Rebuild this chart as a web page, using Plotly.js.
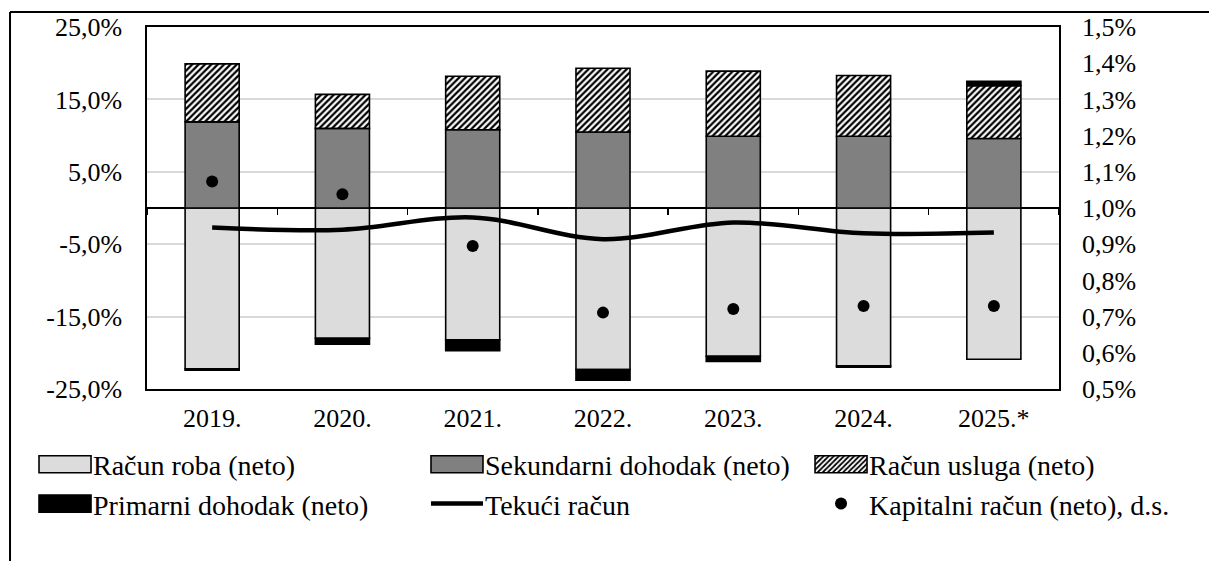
<!DOCTYPE html>
<html>
<head>
<meta charset="utf-8">
<script src="https://cdn.plot.ly/plotly-3.0.1.min.js"></script>
<style>
  html, body { margin: 0; padding: 0; background: #ffffff; }
  #chart { width: 1209px; height: 561px; }
</style>
</head>
<body>
<div id="chart"></div>
<script>
// ---- Data ----
const years = ["2019.", "2020.", "2021.", "2022.", "2023.", "2024.", "2025.*"];

const racunRoba        = [-22.2, -18.0, -18.2, -22.3, -20.5, -21.8, -20.9];  // % (left axis)
const sekundarniDohodak = [11.9, 11.0, 10.8, 10.5, 9.9, 9.9, 9.6];           // %
const racunUsluga      = [8.0, 4.7, 7.4, 8.8, 9.0, 8.4, 7.3];                // %
const primarniDohodak  = [-0.2, -0.8, -1.5, -1.5, -0.7, -0.2, 0.6];          // %
const tekuciRacun      = [-2.7, -3.0, -1.3, -4.3, -2.0, -3.5, -3.4];         // % (left axis)
const kapitalniRacun   = [1.073, 1.038, 0.895, 0.711, 0.721, 0.729, 0.729];  // % (right axis)

const leftTickVals = [-25, -15, -5, 5, 15, 25];
const leftTickText = ["-25,0%", "-15,0%", "-5,0%", "5,0%", "15,0%", "25,0%"];

const seriesNames = [
  "Račun roba (neto)",
  "Sekundarni dohodak (neto)",
  "Račun usluga (neto)",
  "Primarni dohodak (neto)",
  "Tekući račun",
  "Kapitalni račun (neto), d.s."
];

// ---- Styling ----
const FONT = "Liberation Serif, serif";
const FS = 26;
const LFS = 28;
const barLine = { color: "#000000", width: 1.6 };

const traces = [
  {
    type: "bar", x: years, y: racunRoba, name: seriesNames[0],
    marker: { color: "#dcdcdc", line: barLine }, legend: "legend"
  },
  {
    type: "bar", x: years, y: sekundarniDohodak, name: seriesNames[1],
    marker: { color: "#808080", line: barLine }, legend: "legend2"
  },
  {
    type: "bar", x: years, y: racunUsluga, name: seriesNames[2],
    marker: {
      color: "#ffffff", line: barLine,
      pattern: { shape: "/", fgcolor: "#000000", bgcolor: "#ffffff", size: 4.5, solidity: 0.5 }
    },
    legend: "legend3"
  },
  {
    type: "bar", x: years, y: primarniDohodak, name: seriesNames[3],
    marker: { color: "#000000", line: barLine }, legend: "legend"
  },
  {
    type: "scatter", mode: "lines", x: years, y: tekuciRacun, name: seriesNames[4],
    line: { color: "#000000", width: 4.5, shape: "spline", smoothing: 1 },
    legend: "legend2"
  },
  {
    type: "scatter", mode: "markers", x: years, y: kapitalniRacun, name: seriesNames[5],
    yaxis: "y2",
    marker: { color: "#000000", size: 12 },
    legend: "legend3"
  },
  // invisible helper trace to carry the boundary tick marks on the zero line
  {
    type: "scatter", mode: "markers", x: years, y: tekuciRacun, xaxis: "x2",
    marker: { opacity: 0 }, showlegend: false, hoverinfo: "skip"
  }
];

const legendCommon = {
  orientation: "v", xanchor: "left", yanchor: "top",
  y: -0.1395, bgcolor: "rgba(0,0,0,0)", borderwidth: 0,
  font: { family: FONT, size: LFS, color: "#000000" },
  itemwidth: 46, traceorder: "normal", tracegroupgap: 0
};

const layout = {
  width: 1209, height: 561,
  margin: { l: 147, r: 150, t: 27, b: 172, autoexpand: false },
  paper_bgcolor: "#ffffff", plot_bgcolor: "#ffffff",
  separators: ",.",
  font: { family: FONT, size: FS, color: "#000000" },
  barmode: "relative",
  bargap: 0.585,
  showlegend: true,
  legend:  Object.assign({}, legendCommon, { x: -0.1206 }),
  legend2: Object.assign({}, legendCommon, { x: 0.3092 }),
  legend3: Object.assign({}, legendCommon, { x: 0.7303 }),
  xaxis: {
    type: "category", range: [-0.5, 6.5],
    showgrid: false, zeroline: false,
    showline: true, linecolor: "#000000", linewidth: 1.6, mirror: true,
    ticks: "", ticklabelstandoff: 5,
    tickfont: { family: FONT, size: FS, color: "#000000" }
  },
  xaxis2: {
    type: "category", range: [-0.5, 6.5], overlaying: "x",
    anchor: "free", position: 0.5, side: "bottom",
    showgrid: false, zeroline: false, showline: false,
    tickson: "boundaries", ticks: "outside", ticklen: 6, tickwidth: 1.5, tickcolor: "#000000",
    showticklabels: false
  },
  yaxis: {
    range: [-25, 25],
    tickmode: "array", tickvals: leftTickVals, ticktext: leftTickText,
    showgrid: true, gridcolor: "#d9d9d9", gridwidth: 2,
    zeroline: true, zerolinecolor: "#000000", zerolinewidth: 1.6,
    showline: true, linecolor: "#000000", linewidth: 1.6, mirror: true,
    ticks: "", ticklabelstandoff: 18,
    tickfont: { family: FONT, size: FS, color: "#000000" }
  },
  yaxis2: {
    range: [0.5, 1.5], overlaying: "y", side: "right",
    tick0: 0.5, dtick: 0.1, tickformat: ".1f", ticksuffix: "%",
    showgrid: false, zeroline: false, showline: false,
    ticks: "", ticklabelstandoff: 22,
    tickfont: { family: FONT, size: FS, color: "#000000" }
  },
  shapes: [
    // outer frame (top and left edges of the original figure box)
    { type: "line", xref: "paper", yref: "paper", x0: -0.1502, x1: 1.2, y0: 1.0414, y1: 1.0414,
      line: { color: "#000000", width: 2 } },
    { type: "line", xref: "paper", yref: "paper", x0: -0.1502, x1: -0.1502, y0: 1.0414, y1: -0.5,
      line: { color: "#000000", width: 2 } }
  ]
};

Plotly.newPlot("chart", traces, layout, { staticPlot: true, displayModeBar: false }).then(function (gd) {
  // widen the bar swatches in all legends to the wide rectangles of the original
  gd.querySelectorAll("g.legendpoints path.legendbar, g.legendpoints path.legendundefined").forEach(function (p) {
    p.setAttribute("d", "M26,8.5H-26V-8.5H26Z");
  });
  // lengthen the line swatch
  gd.querySelectorAll("g.legendlines path").forEach(function (p) {
    p.setAttribute("d", "M2,0h52");
  });
});
</script>
</body>
</html>
